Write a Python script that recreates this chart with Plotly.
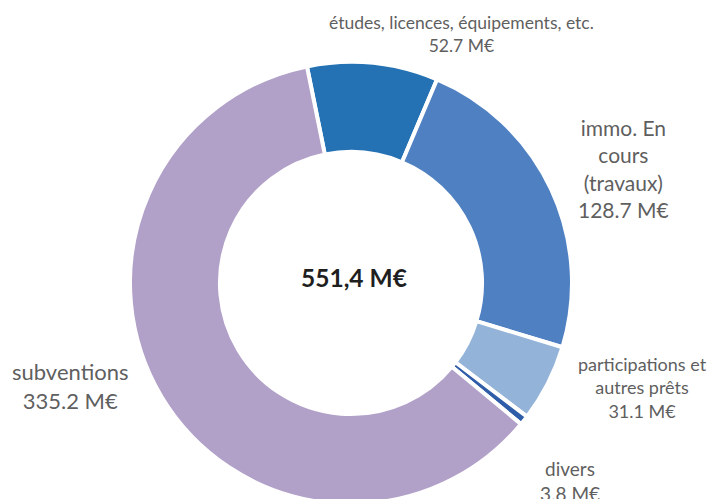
import plotly.graph_objects as go

W, H = 715, 499
OFF = 8  # default page body margin

categories = ["études, licences, équipements, etc.", "immo. En cours (travaux)",
              "participations et autres prêts", "divers", "subventions"]
values = [52.7, 128.7, 31.1, 3.8, 335.2]
label_texts = ["études, licences, équipements, etc.<br>52.7 M€",
               "immo. En<br>cours<br>(travaux)<br>128.7 M€",
               "participations et<br>autres prêts<br>31.1 M€",
               "divers<br>3.8 M€",
               "subventions<br>335.2 M€"]
total_text = "551,4 M€"

colors = ["#2472b3", "#4f81c2", "#94b3d8", "#2f5da8", "#b1a0c8"]
# label pixel centres (page coords) and font sizes (styling)
label_pos = [(461, 34), (623, 168), (642, 387), (570, 481), (70, 386)]
label_size = [17.5, 21, 18, 19, 22]

cx, cy, R = 351 - OFF, 283 - OFF, 221
fig = go.Figure(go.Pie(
    labels=categories, values=values, sort=False, direction="clockwise",
    rotation=-11.5, hole=0.593,
    marker=dict(colors=colors, line=dict(color="white", width=4)),
    textinfo="none", hoverinfo="label+value", showlegend=False,
    domain=dict(x=[(cx - R) / W, (cx + R) / W], y=[1 - (cy + R) / H, 1 - (cy - R) / H]),
))

ann = []
for t, (px, py), s in zip(label_texts, label_pos, label_size):
    ann.append(dict(x=(px - OFF) / W, y=1 - (py - OFF) / H, xref="paper", yref="paper", text=t,
                    showarrow=False, xanchor="center", yanchor="middle",
                    font=dict(family="Lato", size=s, color="#5f5f5f")))
ann.append(dict(x=(354 - OFF) / W, y=1 - (277 - OFF) / H, xref="paper", yref="paper",
                text="<b>" + total_text + "</b>", showarrow=False,
                xanchor="center", yanchor="middle",
                font=dict(family="Lato", size=24.5, color="#1f1f1f")))

fig.update_layout(width=W, height=H, margin=dict(l=0, r=0, t=0, b=0),
                  paper_bgcolor="white", plot_bgcolor="white", annotations=ann)
fig.write_html("out.html")
